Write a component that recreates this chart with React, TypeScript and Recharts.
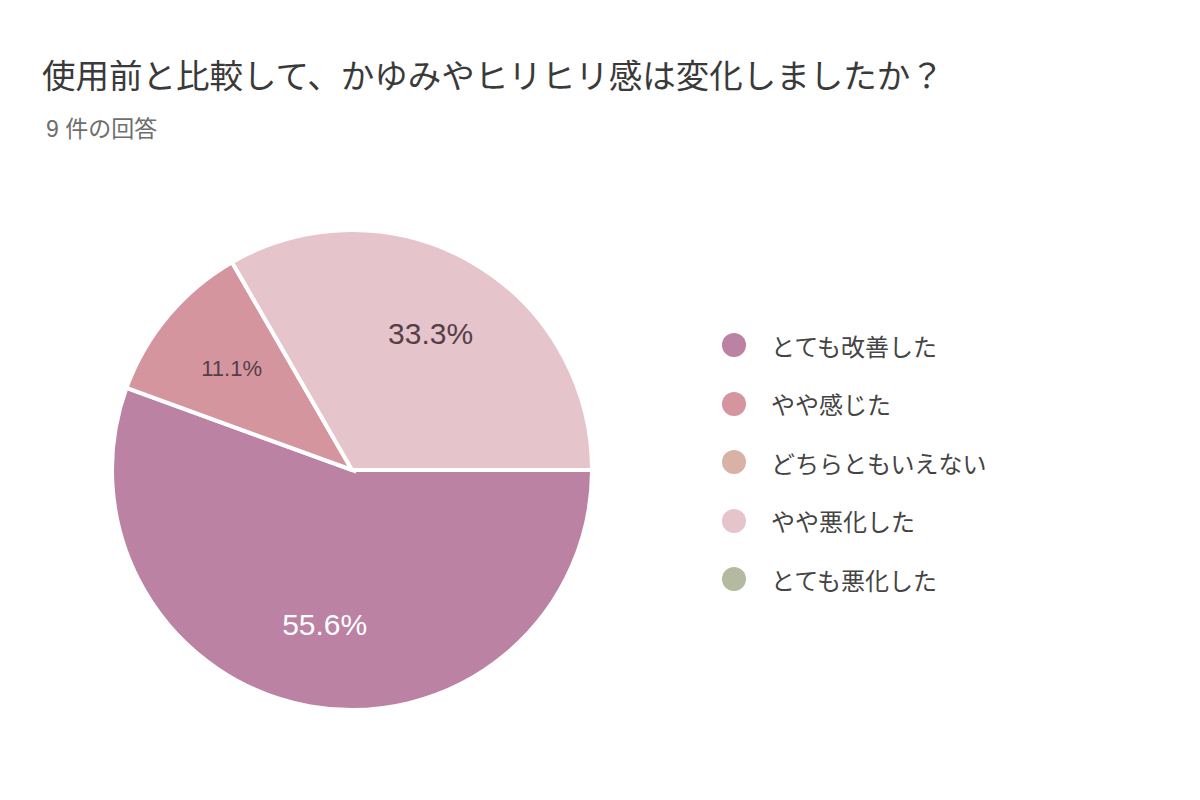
import { PieChart, Pie, Cell, Legend } from 'recharts';

const categories = ['とても改善した', 'やや感じた', 'どちらともいえない', 'やや悪化した', 'とても悪化した'];
const counts = [5, 1, 0, 3, 0];
const colors = ['#bb82a4', '#d4959f', '#d9b2a5', '#e6c4cc', '#b3ba9f'];
const labelColors = ['#ffffff', '#553f47', '#553f47', '#553f47', '#553f47'];

const title = '使用前と比較して、かゆみやヒリヒリ感は変化しましたか？';
const subtitle = '9 件の回答';

const data = categories.map((name, i) => ({ name, value: counts[i] }));

const FONT = "'Liberation Sans', 'Noto Sans CJK JP', sans-serif";
const RADIAN = Math.PI / 180;

const renderLabel = (props: any) => {
    const { cx, cy, midAngle, outerRadius, percent, index } = props;
    if (!percent) return null;
    const r = outerRadius * 0.655;
    const x = cx + r * Math.cos(-midAngle * RADIAN);
    const y = cy + r * Math.sin(-midAngle * RADIAN);
    return (
        <text
            x={x}
            y={y}
            fill={labelColors[index]}
            textAnchor="middle"
            dominantBaseline="central"
            fontFamily={FONT}
            fontSize={percent < 0.2 ? 22 : 30}
        >
            {(percent * 100).toFixed(1)}%
        </text>
    );
};

const renderLegend = () => (
    <div style={{ fontFamily: FONT }}>
        {categories.map((name, i) => (
            <div key={name} style={{ display: 'flex', alignItems: 'center', height: 58.5 }}>
                <span
                    style={{
                        width: 24,
                        height: 24,
                        borderRadius: '50%',
                        background: colors[i],
                        display: 'inline-block',
                    }}
                />
                <span style={{ marginLeft: 25, fontSize: 24, color: '#444' }}>{name}</span>
            </div>
        ))}
    </div>
);

export default function App() {
    return (
        <div
            style={{
                position: 'fixed',
                left: 0,
                top: 0,
                width: 1200,
                height: 800,
                background: '#fff',
                fontFamily: FONT,
            }}
        >
            <div style={{ position: 'absolute', left: 42, top: 58, fontSize: 33.5, lineHeight: '38px', color: '#3a3a3a' }}>
                {title}
            </div>
            <div style={{ position: 'absolute', left: 46, top: 115, fontSize: 23, lineHeight: '28px', color: '#6e6e6e' }}>
                {subtitle}
            </div>
            <div style={{ position: 'absolute', left: 0, top: 0 }}>
                <PieChart width={1200} height={800} margin={{ top: 0, right: 0, bottom: 0, left: 0 }}>
                    <Pie
                        data={data}
                        dataKey="value"
                        nameKey="name"
                        cx={352}
                        cy={470}
                        outerRadius={240}
                        startAngle={0}
                        endAngle={-360}
                        stroke="#ffffff"
                        strokeWidth={4}
                        label={renderLabel}
                        labelLine={false}
                        isAnimationActive={false}
                    >
                        {data.map((d, i) => (
                            <Cell key={d.name} fill={colors[i]} />
                        ))}
                    </Pie>
                    <Legend
                        content={renderLegend}
                        wrapperStyle={{ position: 'absolute', left: 722, top: 316, width: 320 }}
                    />
                </PieChart>
            </div>
        </div>
    );
}
